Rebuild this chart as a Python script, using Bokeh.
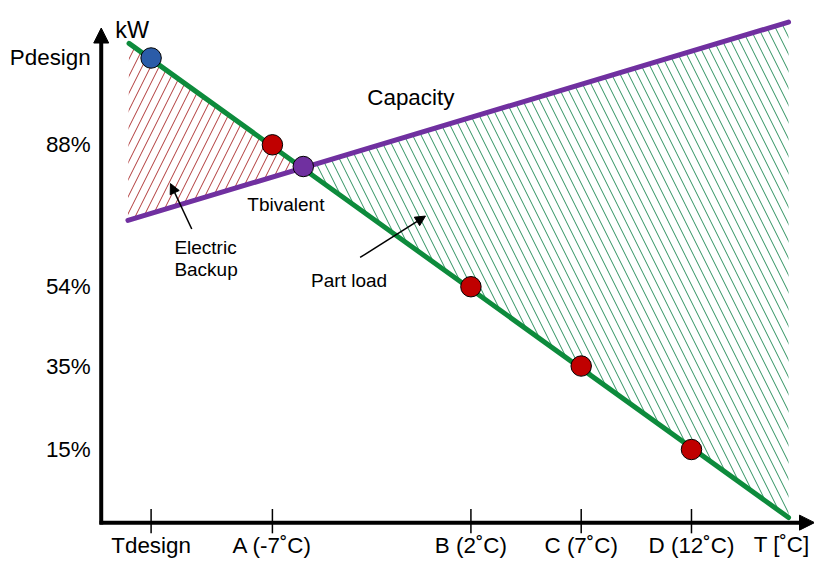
from bokeh.plotting import figure
from bokeh.models import Range1d, Arrow, NormalHead
from bokeh.core.properties import value
from bokeh.embed import file_html
from bokeh.resources import INLINE

# ---------------- data ----------------
tick_x = [-12.5, -7, 2, 7, 12]                      # outdoor temperature positions
tick_labels = ["Tdesign", "A (-7˚C)", "B (2˚C)", "C (7˚C)", "D (12˚C)"]
load_levels = [108.8, 88, 54, 35, 15]               # part load, % (Pdesign drawn schematically)
level_labels = ["Pdesign", "88%", "54%", "35%", "15%"]
point_colors = ["#2b5ca8", "#c00000", "#c00000", "#c00000", "#c00000"]

load_line_x = [-13.5, 16.4]
load_line_y = [112.3, -1.3]
cap_line_x = [-13.55, 16.4]
cap_line_y = [69.9, 117.4]
biv_x = -5.6
biv_y = 82.8

# ---------------- layout helpers (reference pixel -> data) ----------------
def rx(px):
    return 3.5 + (px - 513.4) / 22.49

def py(px):
    return (526.2 - px) / 4.293

W, H = 814, 562
K = 0.975  # overall size factor of the reference drawn in this canvas

def fs(px):
    return f"{px * K:.1f}px"

FONT = value("Liberation Sans")

p = figure(width=W, height=H, output_backend="svg", toolbar_location=None,
           x_range=Range1d(rx(0), rx(830)), y_range=Range1d(py(578), py(0)),
           x_axis_location=None, y_axis_location=None, min_border=0)
p.grid.visible = False
p.outline_line_color = None
p.background_fill_color = "white"
p.border_fill_color = "white"

# hatched regions
p.patch([load_line_x[0], biv_x, cap_line_x[0]], [load_line_y[0], biv_y, cap_line_y[0]],
        fill_color=None, line_color=None, hatch_pattern="/", hatch_color="#b03a3a",
        hatch_weight=1, hatch_scale=17)
p.patch([biv_x, cap_line_x[1], load_line_x[1]], [biv_y, cap_line_y[1], load_line_y[1]],
        fill_color=None, line_color=None, hatch_pattern="\\", hatch_color="#2e9160",
        hatch_weight=1, hatch_scale=17)

# lines
p.line(load_line_x, load_line_y, line_width=5, line_color="#0d8b3c", line_cap="round")
p.line(cap_line_x, cap_line_y, line_width=5, line_color="#7030a0", line_cap="round")

# axes
p.add_layout(Arrow(x_start=rx(102.7), y_start=py(539), x_end=rx(102.7), y_end=py(28.3),
                   line_width=4, line_color="black",
                   end=NormalHead(size=15, fill_color="black", line_color="black", line_width=1)))
p.add_layout(Arrow(x_start=rx(101), y_start=py(537), x_end=rx(830), y_end=py(537),
                   line_width=4, line_color="black",
                   end=NormalHead(size=15, fill_color="black", line_color="black", line_width=1)))
p.segment(x0=tick_x, y0=[py(523)] * len(tick_x), x1=tick_x, y1=[py(548)] * len(tick_x),
          line_width=1.5, line_color="black")

# points
p.scatter(tick_x, load_levels, size=21 * K, fill_color=point_colors, line_color="black", line_width=1)
p.scatter([biv_x], [biv_y], size=21 * K, fill_color="#7030a0", line_color="black", line_width=1)

# annotation arrows
p.add_layout(Arrow(x_start=rx(195), y_start=py(235), x_end=rx(173.3), y_end=py(188.3),
                   line_width=1.5, line_color="black",
                   end=NormalHead(size=10, fill_color="black", line_color="black", line_width=1)))
p.add_layout(Arrow(x_start=rx(366.7), y_start=py(264.3), x_end=rx(433.3), y_end=py(221.7),
                   line_width=1.5, line_color="black",
                   end=NormalHead(size=10, fill_color="black", line_color="black", line_width=1)))

# tick labels
p.text(tick_x, [py(561)] * len(tick_x), text=tick_labels, text_align="center",
       text_baseline="alphabetic", text_font=FONT, text_font_size=fs(23), text_color="black")
p.text([rx(92)] * len(load_levels), load_levels, text=level_labels, text_align="right",
       text_baseline="middle", text_font=FONT, text_font_size=fs(23), text_color="black")

# other texts
p.text([rx(117)], [py(30)], text=["kW"], text_align="left", text_baseline="alphabetic",
       text_font=FONT, text_font_size=fs(24), text_color="black")
p.text([rx(768)], [py(559)], text=["T [˚C]"], text_align="left", text_baseline="alphabetic",
       text_font=FONT, text_font_size=fs(23), text_color="black")
p.text([rx(374)], [py(99.3)], text=["Capacity"], text_align="left", text_baseline="alphabetic",
       text_font=FONT, text_font_size=fs(23), text_color="black")
p.text([rx(251.7)], [py(209.3)], text=["Tbivalent"], text_align="left", text_baseline="alphabetic",
       text_font=FONT, text_font_size=fs(19.5), text_color="black")
p.text([rx(177.3), rx(177.3)], [py(254), py(276.7)], text=["Electric", "Backup"], text_align="left",
       text_baseline="alphabetic", text_font=FONT, text_font_size=fs(19.5), text_color="black")
p.text([rx(316.7)], [py(288.3)], text=["Part load"], text_align="left", text_baseline="alphabetic",
       text_font=FONT, text_font_size=fs(19.5), text_color="black")

open("out.html", "w").write(file_html(p, INLINE))
